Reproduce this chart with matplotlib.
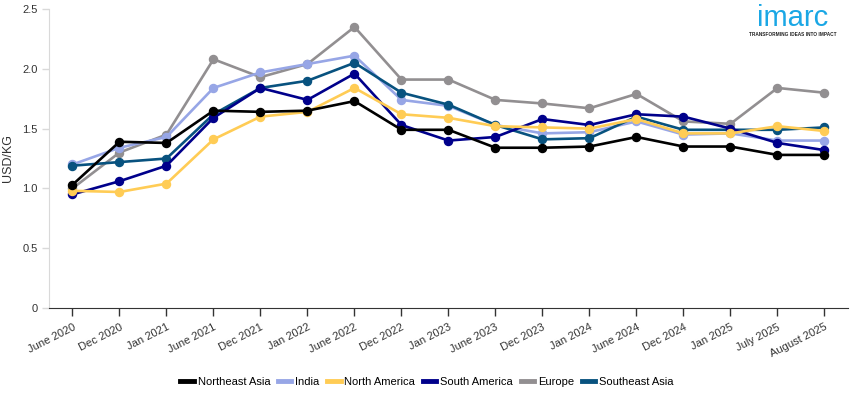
import matplotlib
matplotlib.use("Agg")
import matplotlib.pyplot as plt
import numpy as np
from matplotlib.lines import Line2D

plt.rcParams['font.family'] = ['Liberation Sans', 'DejaVu Sans']

categories = ["June 2020", "Dec 2020", "Jan 2021", "June 2021", "Dec 2021", "Jan 2022",
              "June 2022", "Dec 2022", "Jan 2023", "June 2023", "Dec 2023", "Jan 2024",
              "June 2024", "Dec 2024", "Jan 2025", "July 2025", "August 2025"]

northeast_asia = [1.03, 1.39, 1.38, 1.65, 1.64, 1.65, 1.73, 1.49, 1.49, 1.34, 1.34, 1.35, 1.43, 1.35, 1.35, 1.28, 1.28]
india          = [1.20, 1.34, 1.43, 1.84, 1.97, 2.04, 2.11, 1.74, 1.69, 1.53, 1.46, 1.47, 1.56, 1.45, 1.46, 1.40, 1.40]
north_america  = [0.98, 0.97, 1.04, 1.41, 1.60, 1.64, 1.84, 1.62, 1.59, 1.52, 1.51, 1.50, 1.58, 1.46, 1.46, 1.52, 1.48]
south_america  = [0.95, 1.06, 1.19, 1.59, 1.84, 1.74, 1.96, 1.53, 1.40, 1.43, 1.58, 1.53, 1.62, 1.60, 1.50, 1.38, 1.32]
europe         = [1.00, 1.30, 1.45, 2.08, 1.93, 2.04, 2.35, 1.91, 1.91, 1.74, 1.71, 1.67, 1.79, 1.56, 1.54, 1.84, 1.80]
southeast_asia = [1.19, 1.22, 1.25, 1.62, 1.84, 1.90, 2.05, 1.80, 1.70, 1.53, 1.41, 1.42, 1.60, 1.49, 1.49, 1.49, 1.51]

series = [
    ("Northeast Asia", northeast_asia, "#000000"),
    ("India", india, "#97a6e6"),
    ("North America", north_america, "#ffcc55"),
    ("South America", south_america, "#00008b"),
    ("Europe", europe, "#928f91"),
    ("Southeast Asia", southeast_asia, "#08527f"),
]

fig = plt.figure(figsize=(8.54, 3.97), dpi=100)
ax = fig.add_axes([49/854, 1 - 308/397, (848-49)/854, (308-9)/397])

x = np.arange(len(categories))
order = ["Europe", "India", "Southeast Asia", "South America", "North America", "Northeast Asia"]
lookup = {n: (v, c) for n, v, c in series}
for z, name in enumerate(order):
    v, c = lookup[name]
    ax.plot(x, v, color=c, lw=1.9, marker='o', ms=5.8, zorder=3 + z)

ax.set_xlim(-0.5, len(categories) - 0.5)
ax.set_ylim(0, 2.5)
ax.set_yticks([0, 0.5, 1.0, 1.5, 2.0, 2.5])
ax.set_yticklabels(["0", "0.5", "1.0", "1.5", "2.0", "2.5"])
ax.set_xticks(x)
ax.set_xticklabels(categories, rotation=27, ha='right', rotation_mode='anchor')

ax.tick_params(axis='y', length=5, width=1, color='#d9d9d9', pad=3, labelsize=8, labelcolor='#333333')
ax.tick_params(axis='x', length=6, width=1, color='#333333', labelsize=8, labelcolor='#333333', pad=4)

for s in ['top', 'right']:
    ax.spines[s].set_visible(False)
ax.spines['left'].set_color('#d9d9d9')
ax.spines['bottom'].set_color('#333333')

ax.set_ylabel("USD/KG", fontsize=9, color='#333333', labelpad=6)

handles = [Line2D([0], [0], color=c, lw=3.5) for n, v, c in series]
labels = [n for n, v, c in series]
fig.legend(handles, labels, loc='center', bbox_to_anchor=(0.5, 1 - 382/397), ncol=6,
           frameon=False, fontsize=8, handlelength=1.2, handletextpad=0.35, columnspacing=0.7)

# logo
fig.text(793/854, 1 - 18/397, "imarc", ha='center', va='center', fontsize=21, color='#1aa7e5')
fig.text(793/854, 1 - 34/397, "TRANSFORMING IDEAS INTO IMPACT", ha='center', va='center',
         fontsize=3.4, color='#222222', fontweight='bold')

fig.savefig("out.png", dpi=100)
